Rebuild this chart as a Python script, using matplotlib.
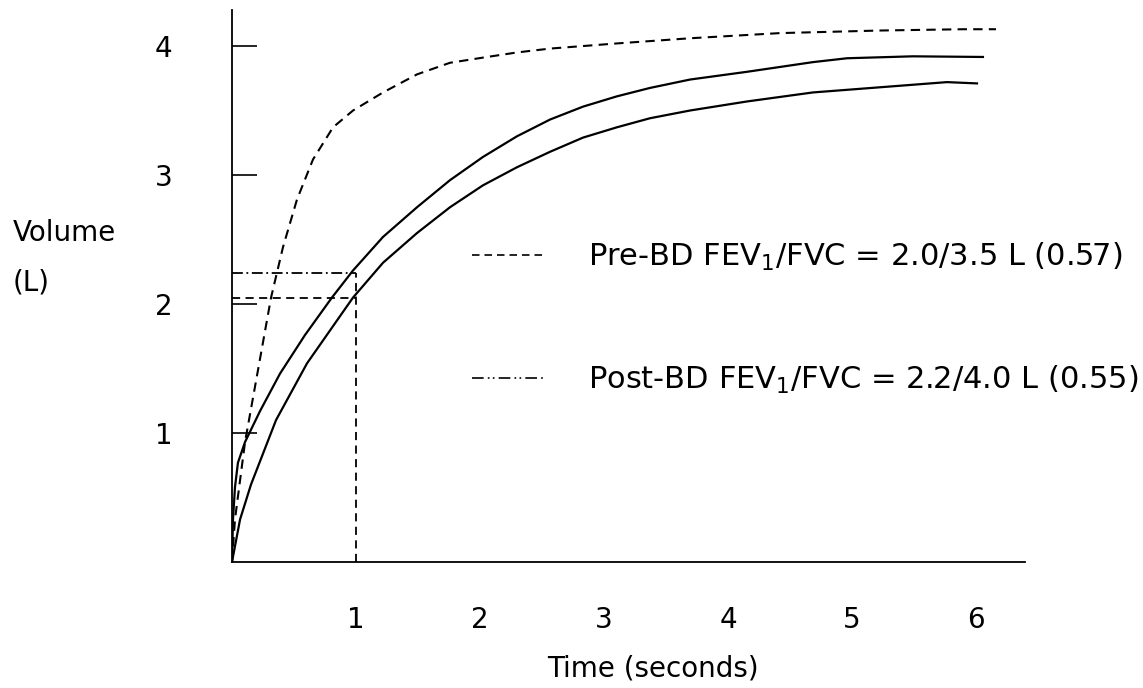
import matplotlib
matplotlib.use("Agg")
import matplotlib.pyplot as plt
from matplotlib.lines import Line2D

# ---- data ----
# dashed curve (fastest rising)
t_dashed = [0, 0.024, 0.105, 0.315, 0.411, 0.524, 0.653, 0.815, 0.976, 1.218,
            1.492, 1.758, 2.024, 2.298, 2.565, 3.105, 3.694, 4.419, 5.226, 5.895, 6.161]
v_dashed = [0, 0.33, 0.93, 2.05, 2.44, 2.81, 3.12, 3.37, 3.50, 3.64,
            3.78, 3.87, 3.91, 3.95, 3.98, 4.02, 4.06, 4.10, 4.12, 4.13, 4.13]

# upper solid curve
t_upper = [0, 0.008, 0.024, 0.048, 0.105, 0.226, 0.387, 0.589, 0.806, 0.976, 1.218,
           1.492, 1.758, 2.024, 2.298, 2.565, 2.831, 3.105, 3.371, 3.694,
           4.153, 4.685, 4.96, 5.49, 6.056]
v_upper = [0, 0.33, 0.58, 0.77, 0.93, 1.17, 1.46, 1.76, 2.05, 2.26, 2.52,
           2.75, 2.96, 3.14, 3.30, 3.43, 3.53, 3.61, 3.675, 3.74,
           3.80, 3.875, 3.905, 3.92, 3.915]

# lower solid curve
t_lower = [0, 0.065, 0.153, 0.355, 0.605, 0.976, 1.218, 1.492,
           1.758, 2.024, 2.298, 2.565, 2.831, 3.105, 3.371, 3.694, 4.153,
           4.685, 5.226, 5.766, 6.008]
v_lower = [0, 0.33, 0.60, 1.10, 1.54, 2.05, 2.32, 2.55,
           2.75, 2.92, 3.06, 3.18, 3.29, 3.37, 3.44, 3.50, 3.57,
           3.64, 3.68, 3.72, 3.71]

fev1_time = 1.0
fev1_pre = 2.05
fev1_post = 2.24

x_ticks = [1, 2, 3, 4, 5, 6]
y_ticks = [1, 2, 3, 4]
legend_labels = ["Pre-BD FEV$_1$/FVC = 2.0/3.5 L (0.57)",
                 "Post-BD FEV$_1$/FVC = 2.2/4.0 L (0.55)"]

# ---- figure ----
W, H = 1143, 688
fig = plt.figure(figsize=(W / 100, H / 100), dpi=100)
ax = fig.add_axes([232 / W, (H - 562) / H, (1025 - 232) / W, (562 - 10) / H])
ax.set_xlim(0, (1025 - 232) / 124)
ax.set_ylim(0, 552 / 129)

for s in ("top", "right"):
    ax.spines[s].set_visible(False)
for s in ("left", "bottom"):
    ax.spines[s].set_linewidth(1.3)

dash = (0, (4.5, 3))
dashdot = (0, (6, 2, 1, 2))
dashdotdot = (0, (7, 2.5, 1, 2, 1, 2.5))

ax.plot(t_dashed, v_dashed, color="black", lw=1.5, linestyle=dash)
ax.plot(t_upper, v_upper, color="black", lw=1.6)
ax.plot(t_lower, v_lower, color="black", lw=1.6)

ax.plot([0, fev1_time], [fev1_pre, fev1_pre], color="black", lw=1.3, linestyle=dash)
ax.plot([0, fev1_time], [fev1_post, fev1_post], color="black", lw=1.3, linestyle=dashdot)
ax.plot([fev1_time, fev1_time], [0, fev1_post], color="black", lw=1.3, linestyle=dash)

ax.set_xticks(x_ticks)
ax.set_xticklabels([str(v) for v in x_ticks])
ax.set_yticks(y_ticks)
ax.set_yticklabels([str(v) for v in y_ticks])
ax.tick_params(axis="x", length=0, pad=32, labelsize=20)
ax.tick_params(axis="y", direction="in", length=18, width=1.2, pad=43, labelsize=20)

handles = [Line2D([], [], color="black", lw=1.2, linestyle=dash),
           Line2D([], [], color="black", lw=1.2, linestyle=dashdotdot)]
ax.legend(handles, legend_labels, loc="upper left",
          bbox_to_anchor=(472 / W, 1 - 241 / H), bbox_transform=fig.transFigure,
          frameon=False, fontsize=22, handlelength=2.39, handletextpad=1.4,
          labelspacing=2.97, borderpad=0, borderaxespad=0)

fig.text(13 / W, 1 - 233 / H, "Volume", ha="left", va="center", fontsize=20)
fig.text(13 / W, 1 - 282 / H, "(L)", ha="left", va="center", fontsize=20)
fig.text(653 / W, 1 - 668 / H, "Time (seconds)", ha="center", va="center", fontsize=20)

fig.savefig("out.png", dpi=100)
